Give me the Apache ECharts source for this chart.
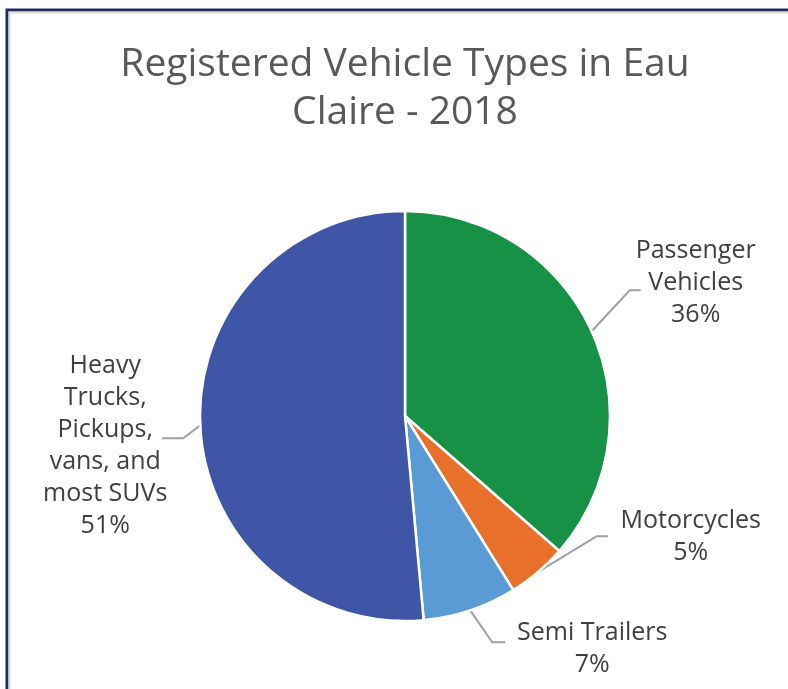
<!DOCTYPE html>
<html>
<head>
<meta charset="utf-8">
<script src="https://cdn.jsdelivr.net/npm/echarts@6/dist/echarts.min.js"></script>
<style>
  html, body { margin: 0; padding: 0; background: #ffffff; }
  #chart { width: 788px; height: 689px; }
</style>
</head>
<body>
<div id="chart"></div>
<script>
// ---- data ----
const categories = ['Passenger Vehicles', 'Motorcycles', 'Semi Trailers', 'Heavy Trucks, Pickups, vans, and most SUVs'];
const labelTexts = ['Passenger\nVehicles', 'Motorcycles', 'Semi Trailers', 'Heavy\nTrucks,\nPickups,\nvans, and\nmost SUVs'];
const shares = [36.4, 4.7, 7.4, 51.4];
const titleLines = ['Registered Vehicle Types in Eau', 'Claire - 2018'];

// ---- styling / layout ----
const colors = ['#169146', '#E8702A', '#5B9BD5', '#3F56A6'];
// label offsets relative to the slice edge point: elbow, line end, text centre
const labelOffsets = [
  { elbow: [38, -41], end: [49, -41], text: [104, -48] },
  { elbow: [59, -36], end: [70, -36], text: [153, -35] },
  { elbow: [22, 32], end: [35, 32], text: [122, 39] },
  { elbow: [-17, 13], end: [-38, 13], text: [-95, 21] }
];

const chart = echarts.init(document.getElementById('chart'), null, { renderer: 'canvas' });

const option = {
  backgroundColor: '#ffffff',
  animation: false,
  title: {
    text: titleLines.join('\n'),
    left: 405,
    top: 41,
    padding: 0,
    textAlign: 'center',
    textStyle: {
      fontFamily: 'Open Sans',
      fontWeight: 'normal',
      fontSize: 39,
      lineHeight: 48,
      color: '#595959'
    }
  },
  graphic: [
    {
      type: 'rect',
      shape: { x: 7, y: 10, width: 820, height: 720 },
      style: { fill: 'none', stroke: '#1F2D5C', lineWidth: 3 },
      silent: true
    },
    {
      type: 'rect',
      shape: { x: 9.5, y: 12.5, width: 820, height: 720 },
      style: { fill: 'none', stroke: '#DADADA', lineWidth: 2 },
      silent: true
    }
  ],
  series: [
    {
      type: 'pie',
      center: [405, 416],
      radius: 205,
      startAngle: 90,
      clockwise: true,
      avoidLabelOverlap: false,
      data: categories.map((c, i) => ({
        name: c,
        value: shares[i],
        itemStyle: { color: colors[i] }
      })),
      itemStyle: { borderColor: '#ffffff', borderWidth: 2.5 },
      label: {
        show: true,
        position: 'outside',
        formatter: p => labelTexts[p.dataIndex] + '\n' + Math.round(shares[p.dataIndex]) + '%',
        fontFamily: 'Open Sans',
        fontSize: 25,
        lineHeight: 32,
        color: '#404040'
      },
      labelLine: {
        show: true,
        length: 20,
        length2: 10,
        lineStyle: { color: '#A0A0A0', width: 2 }
      },
      labelLayout: function (p) {
        const o = labelOffsets[p.dataIndex];
        const s = (p.labelLinePoints && p.labelLinePoints[0]) ||
          [p.rect.x + p.rect.width / 2, p.rect.y + p.rect.height / 2];
        return {
          x: s[0] + o.text[0],
          y: s[1] + o.text[1],
          align: 'center',
          verticalAlign: 'middle',
          labelLinePoints: [
            [s[0], s[1]],
            [s[0] + o.elbow[0], s[1] + o.elbow[1]],
            [s[0] + o.end[0], s[1] + o.end[1]]
          ]
        };
      }
    }
  ]
};

chart.setOption(option);
</script>
</body>
</html>
